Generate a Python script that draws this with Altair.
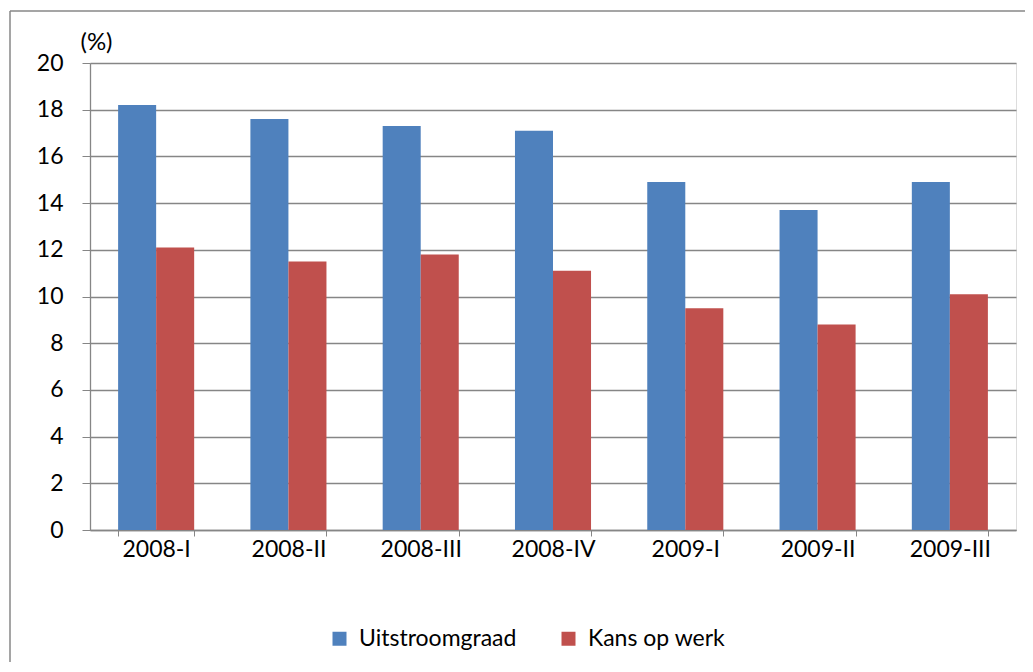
import altair as alt
import pandas as pd

quarters = ["2008-I", "2008-II", "2008-III", "2008-IV", "2009-I", "2009-II", "2009-III"]
uitstroomgraad = [18.2, 17.6, 17.3, 17.1, 14.9, 13.7, 14.9]
kans_op_werk = [12.1, 11.5, 11.8, 11.1, 9.5, 8.8, 10.1]
series = ["Uitstroomgraad", "Kans op werk"]
colors = ["#4F81BD", "#C0504D"]
y_ticks = [0, 2, 4, 6, 8, 10, 12, 14, 16, 18, 20]

rows = []
for q, u, k in zip(quarters, uitstroomgraad, kans_op_werk):
    rows.append({"kwartaal": q, "reeks": series[0], "waarde": u})
    rows.append({"kwartaal": q, "reeks": series[1], "waarde": k})
df = pd.DataFrame(rows)

FONT = "Lato"
GRAY = "#868686"

bars = alt.Chart(df).mark_bar().encode(
    x=alt.X(
        "kwartaal:N",
        sort=quarters,
        scale=alt.Scale(paddingInner=0.425, paddingOuter=0.2125),
        axis=alt.Axis(
            title=None, labelAngle=0, tickBand="extent", ticks=True, tickSize=6,
            tickColor=GRAY, domainColor=GRAY, domainWidth=1.3, labelFont=FONT,
            labelFontSize=23, labelColor="black", labelPadding=2, grid=False,
        ),
    ),
    xOffset=alt.XOffset("reeks:N", sort=series, scale=alt.Scale(paddingInner=0, paddingOuter=0)),
    y=alt.Y(
        "waarde:Q",
        scale=alt.Scale(domain=[0, 20], nice=False),
        axis=alt.Axis(
            values=y_ticks, title="(%)", titleAngle=0, titleX=6, titleY=-21,
            titleBaseline="middle", titleAlign="center", titleFont=FONT,
            titleFontSize=24, titleFontWeight="normal", titleColor="black",
            labelFont=FONT, labelFontSize=23, labelColor="black", labelPadding=19,
            tickSize=8, tickColor=GRAY, domainColor=GRAY, domainWidth=1.3,
            grid=True, gridColor=GRAY, gridWidth=1.3,
        ),
    ),
    color=alt.Color(
        "reeks:N",
        sort=series,
        scale=alt.Scale(domain=series, range=colors),
        legend=alt.Legend(
            title=None, orient="none", legendX=238, legendY=564, direction="horizontal",
            symbolType="square", symbolSize=196, symbolStrokeWidth=0, symbolOpacity=1,
            labelFont=FONT, labelFontSize=23, labelColor="black", labelOffset=8,
            columnPadding=40, padding=0,
        ),
    ),
)

frame_top = alt.Chart(alt.Data(values=[{}])).mark_rule(
    stroke="#878787", strokeWidth=1.5
).encode(x=alt.value(-80), x2=alt.value(1200), y=alt.value(-52))

frame_left = alt.Chart(alt.Data(values=[{}])).mark_rule(
    stroke="#878787", strokeWidth=1.5
).encode(x=alt.value(-80), y=alt.value(-52), y2=alt.value(800))

chart = alt.layer(frame_top, frame_left, bars).properties(
    width=926,
    height=467,
    padding={"left": 82, "top": 55, "right": 9, "bottom": 132},
    autosize=alt.AutoSizeParams(type="none"),
).configure_view(stroke=None).configure(background="white")

chart.save("out.html", embed_options={"renderer": "svg", "actions": False})
